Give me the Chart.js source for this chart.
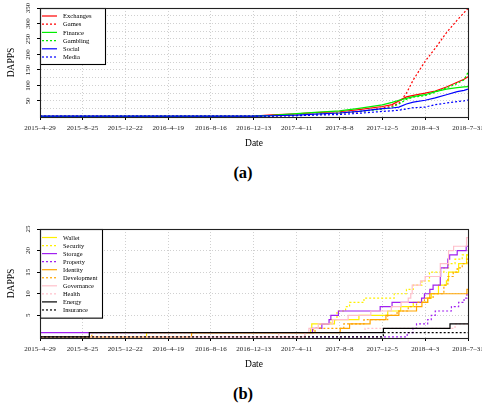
<!DOCTYPE html>
<html><head><meta charset="utf-8">
<script src="https://cdn.jsdelivr.net/npm/chart.js@4.4.1/dist/chart.umd.min.js"></script>
<style>
html,body{margin:0;padding:0;background:#fff;width:482px;height:406px;overflow:hidden}
#c1{position:absolute;left:0;top:0}
#c2{position:absolute;left:0;top:221px}
.cap{position:absolute;left:0;width:486px;text-align:center;font-family:"Liberation Serif",serif;font-weight:bold;font-size:16.5px;line-height:16px}
</style></head><body>
<canvas id="c1" width="482" height="150"></canvas>
<div class="cap" style="top:165px">(a)</div>
<canvas id="c2" width="482" height="150"></canvas>
<div class="cap" style="top:386px">(b)</div>
<script>
// ---------- data ----------
const tickLabels = ['2015-4-29','2015-8-25','2015-12-22','2016-4-19','2016-8-16','2016-12-13','2017-4-11','2017-8-8','2017-12-5','2018-4-3','2018-7-31'];
const topYTicks = [25,50,75,100,125,150,175,200,225,250,275,300,325,350];
const bottomYTicks = [5,10,15,20,25];

// chart (a): cumulative DApps per category
const topDates  = ['2015-04-29','2016-04-19','2016-12-13','2017-02-01','2017-04-11','2017-06-01','2017-08-08','2017-10-01','2017-12-05','2018-01-01','2018-01-20','2018-02-10','2018-03-01','2018-04-03','2018-05-01','2018-06-01','2018-07-01','2018-07-20','2018-07-31'];
const exchanges = [0,0,1,5,8,12,15,22,32,38,50,63,68,75,82,95,110,120,128];
const games     = [0,0,0,1,3,6,10,15,27,33,42,75,118,178,220,270,311,335,348];
const finance   = [0,0,1,3,9,13,18,26,37,45,52,58,64,70,80,88,93,95,96];
const gambling  = [0,1,1,2,4,7,11,16,23,30,40,55,62,67,78,92,106,118,142];
const social    = [1,1,1,2,4,7,11,16,25,27,30,40,46,52,60,70,80,84,88];
const media     = [1,1,1,1,2,4,6,10,16,18,20,24,28,30,38,43,48,50,53];

// chart (b): step series [date, cumulative count]
const wallet = [['2015-04-29',0],['2016-02-19',1],['2017-05-20',2],['2017-05-23',3],['2017-07-25',4],['2017-10-01',5],['2017-12-20',6],['2018-01-25',7],['2018-03-01',8],['2018-04-10',9],['2018-04-20',10],['2018-05-10',12],['2018-06-01',13],['2018-06-07',15],['2018-07-05',17],['2018-07-27',19],['2018-07-31',19]];
const security = [['2015-04-29',0],['2017-05-15',1],['2017-05-28',2],['2017-06-15',3],['2017-07-15',4],['2017-08-01',6],['2017-08-25',7],['2017-09-05',8],['2017-10-15',9],['2018-01-07',10],['2018-02-10',11],['2018-03-01',12],['2018-03-25',13],['2018-04-15',15],['2018-05-25',16],['2018-06-07',17],['2018-06-25',18],['2018-07-15',19],['2018-07-31',19]];
const storage = [['2015-04-29',1],['2017-05-25',2],['2017-06-20',3],['2017-07-10',4],['2017-07-15',5],['2017-08-05',6],['2017-11-29',7],['2018-01-01',8],['2018-03-24',9],['2018-04-01',10],['2018-04-16',11],['2018-04-25',12],['2018-05-15',14],['2018-05-16',16],['2018-06-05',18],['2018-06-10',19],['2018-07-01',20],['2018-07-26',21],['2018-07-31',21]];
const property = [['2015-04-29',0],['2018-02-12',1],['2018-02-28',2],['2018-03-10',3],['2018-04-10',4],['2018-04-20',5],['2018-05-01',6],['2018-06-15',7],['2018-07-05',8],['2018-07-20',9],['2018-07-28',10],['2018-07-31',10]];
const identity = [['2015-04-29',0],['2016-06-23',1],['2017-08-10',2],['2017-09-05',3],['2017-11-01',4],['2017-12-15',5],['2018-01-20',6],['2018-03-10',7],['2018-03-25',8],['2018-04-10',9],['2018-04-16',10],['2018-07-28',11],['2018-07-31',11]];
const development = [['2015-04-29',0],['2015-09-20',1],['2017-06-01',2],['2017-08-20',3],['2017-10-15',4],['2017-12-20',5],['2018-01-15',6],['2018-02-15',7],['2018-03-10',8],['2018-04-01',9],['2018-04-25',10],['2018-05-25',12],['2018-06-05',14],['2018-06-20',15],['2018-07-01',16],['2018-07-15',17],['2018-07-28',18],['2018-07-31',18]];
const governance = [['2015-04-29',0],['2017-05-04',1],['2017-05-15',2],['2017-06-10',3],['2017-07-20',4],['2017-09-01',5],['2017-11-03',6],['2017-12-30',7],['2018-01-26',8],['2018-02-15',9],['2018-02-22',10],['2018-02-26',12],['2018-03-21',13],['2018-04-03',14],['2018-05-15',17],['2018-06-07',20],['2018-06-21',21],['2018-07-27',23],['2018-07-31',23]];
const health = [['2015-04-29',0],['2017-02-20',1],['2017-10-18',2],['2018-06-25',3],['2018-07-31',3]];
const energy = [['2015-04-29',0],['2015-09-13',1],['2017-12-08',2],['2018-06-11',3],['2018-07-31',3]];
const insurance = [['2015-04-29',0],['2017-12-08',1],['2018-07-31',1]];

// ---------- helpers ----------
const FONT = '"Liberation Serif", "Times New Roman", serif';
const T0 = Date.UTC(2015,3,29);
function dayOf(s){ const p = s.split('-').map(Number); return Math.round((Date.UTC(p[0],p[1]-1,p[2]) - T0)/86400000); }
const tickValues = tickLabels.map(dayOf);
const xMax = dayOf('2018-7-31');
const DOT = [2,2];

function lineSeries(dates, vals){ return dates.map((d,i)=>({x: dayOf(d), y: vals[i]})); }
function stepSeries(list){ return list.map(p=>({x: dayOf(p[0]), y: p[1]})); }

const framePlugin = {
  id: 'frame',
  afterDraw(chart, args, o){
    const {ctx, chartArea: a} = chart;
    const L = Math.round(a.left)+0.5, T = Math.round(a.top)+0.5;
    const n = chart.data.datasets.length;
    const h = o.first + o.step*(n-1) + o.last;
    ctx.save();
    ctx.fillStyle = '#fff';
    ctx.fillRect(L, T, o.width, h);
    ctx.strokeStyle = '#000'; ctx.lineWidth = 1.1; ctx.setLineDash([]);
    ctx.strokeRect(L, T, o.width, h);
    ctx.font = o.size + 'px ' + FONT;
    ctx.textBaseline = 'middle'; ctx.textAlign = 'left';
    chart.data.datasets.forEach((ds,i)=>{
      const y = a.top + o.first + i*o.step;
      ctx.beginPath();
      ctx.setLineDash(ds.borderDash || []);
      ctx.strokeStyle = ds.borderColor; ctx.lineWidth = 1.2;
      ctx.moveTo(a.left+2, y); ctx.lineTo(a.left+17, y); ctx.stroke();
      ctx.setLineDash([]);
      ctx.fillStyle = '#000';
      ctx.fillText(ds.label, a.left+23, y+0.5);
    });
    ctx.strokeStyle = '#222'; ctx.lineWidth = 1.1;
    ctx.strokeRect(L, T, Math.round(a.right)-Math.round(a.left), Math.round(a.bottom)-Math.round(a.top));
    ctx.restore();
  }
};

function makeOptions(yMin, yMax, yTicks, labelEvery, yPad, legend){
  return {
    responsive: false, animation: false, devicePixelRatio: 1,
    layout: {padding: {left: 0, top: 8, right: 14, bottom: 0}},
    plugins: {legend: {display: false}, tooltip: {enabled: false}, frame: legend},
    elements: {point: {radius: 0}, line: {tension: 0}},
    scales: {
      x: {
        type: 'linear', min: 0, max: xMax,
        afterBuildTicks(s){ s.ticks = tickValues.map(v=>({value: v})); },
        afterFit(s){ s.height = 33; s.paddingLeft = 0; s.paddingRight = 0; },
        ticks: {autoSkip: false, maxRotation: 0, minRotation: 0, padding: 4, color: '#222',
          font: {family: FONT, size: 7},
          callback: (v, i) => tickLabels[i].replace(/-/g, '\u2013')},
        grid: {color: '#c4c4c4', lineWidth: 0.8, tickLength: 3, tickColor: '#000', tickWidth: 1},
        border: {display: true, color: '#000', width: 1, dash: [1,2]},
        title: {display: true, text: 'Date', color: '#000', font: {family: FONT, size: 9.5}, padding: {top: 0, bottom: 1}}
      },
      y: {
        min: yMin, max: yMax,
        afterBuildTicks(s){ s.ticks = yTicks.map(v=>({value: v})); },
        afterFit(s){ s.width = 40; s.paddingTop = 0; s.paddingBottom = 0; },
        ticks: {autoSkip: false, minRotation: 90, maxRotation: 90, crossAlign: 'center', padding: yPad, color: '#222',
          font: {family: FONT, size: 7},
          callback: v => (v % labelEvery === 0 ? String(v) : '')},
        grid: {color: '#c4c4c4', lineWidth: 0.8, tickLength: 3, tickWidth: 1,
          tickColor: c => (c.tick && c.tick.value % labelEvery === 0 ? '#000' : 'rgba(0,0,0,0)')},
        border: {display: true, color: '#000', width: 1, dash: [1,2]},
        title: {display: true, text: 'DAPPS', color: '#000', font: {family: FONT, size: 9.5}, padding: {top: 6, bottom: 0}}
      }
    }
  };
}

function ds(label, data, color, dotted, i, stepped){
  return {label, data, borderColor: color, backgroundColor: color, borderWidth: 1.2,
    borderDash: dotted ? DOT : [], fill: false, pointRadius: 0, stepped: !!stepped, order: -i};
}

new Chart(document.getElementById('c1'), {
  type: 'line',
  data: {datasets: [
    ds('Exchanges', lineSeries(topDates, exchanges), '#ff0000', false, 0),
    ds('Games',     lineSeries(topDates, games),     '#ff0000', true,  1),
    ds('Finance',   lineSeries(topDates, finance),   '#00ee00', false, 2),
    ds('Gambling',  lineSeries(topDates, gambling),  '#00ee00', true,  3),
    ds('Social',    lineSeries(topDates, social),    '#0000ff', false, 4),
    ds('Media',     lineSeries(topDates, media),     '#0000ff', true,  5)
  ]},
  options: makeOptions(-2, 350, topYTicks, 50, 3.5, {width: 65, first: 8, step: 8.2, last: 7, size: 6.6})
  , plugins: [framePlugin]
});

new Chart(document.getElementById('c2'), {
  type: 'line',
  data: {datasets: [
    ds('Wallet',      stepSeries(wallet),      '#fff000', false, 0, true),
    ds('Security',    stepSeries(security),    '#fff000', true,  1, true),
    ds('Storage',     stepSeries(storage),     '#a020f0', false, 2, true),
    ds('Property',    stepSeries(property),    '#a020f0', true,  3, true),
    ds('Identity',    stepSeries(identity),    '#ffa500', false, 4, true),
    ds('Development', stepSeries(development), '#ffa500', true,  5, true),
    ds('Governance',  stepSeries(governance),  '#ffc0cb', false, 6, true),
    ds('Health',      stepSeries(health),      '#ffc0cb', true,  7, true),
    ds('Energy',      stepSeries(energy),      '#000000', false, 8, true),
    ds('Insurance',   stepSeries(insurance),   '#000000', true,  9, true)
  ]},
  options: makeOptions(-0.25, 25, bottomYTicks, 5, 5.2, {width: 62, first: 8.5, step: 8.05, last: 7.7, size: 6.4})
  , plugins: [framePlugin]
});
</script>
</body></html>
